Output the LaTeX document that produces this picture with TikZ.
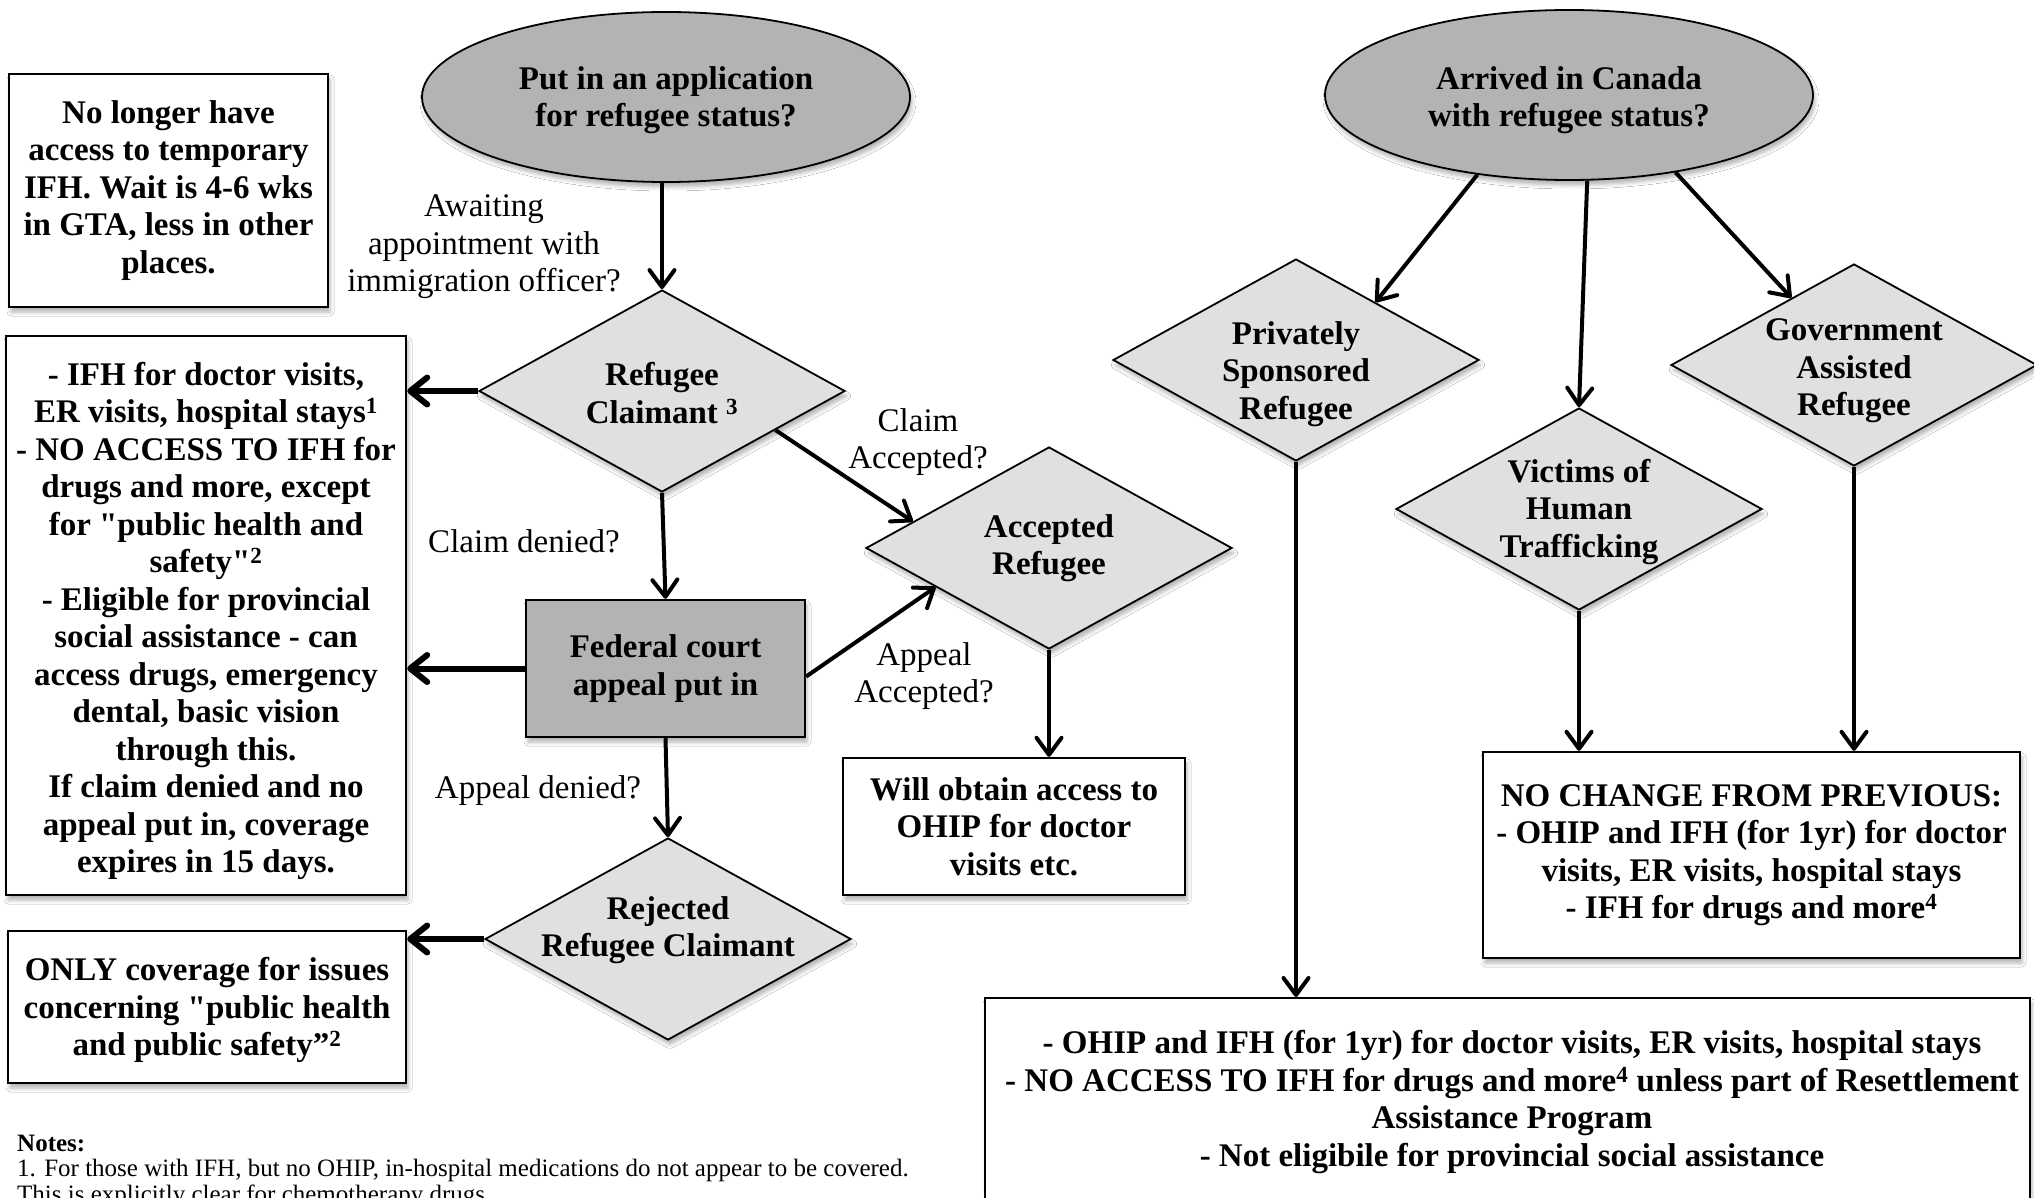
\documentclass[tikz,border=0pt]{standalone}
\usepackage{fontspec}
\setmainfont{Liberation Serif}
\usetikzlibrary{shapes.geometric,arrows.meta,shadows.blur}
\definecolor{mgray}{HTML}{B3B3B3}
\definecolor{lgray}{HTML}{E0E0E0}
\newcommand\myq{\XeTeXglyph\XeTeXcharglyph"22\relax}
\begin{document}
\begin{tikzpicture}[x=1pt,y=-1pt,
  bft/.style={font=\fontsize{33}{37.5}\selectfont\bfseries, align=center, inner sep=0},
  lbl/.style={font=\fontsize{33}{37.5}\selectfont, align=center, inner sep=0},
  shd/.style={blur shadow={shadow xshift=2pt,shadow yshift=-5pt,shadow blur radius=4pt,shadow opacity=30}},
  tbox/.style={draw, line width=2.4pt, fill=white, rectangle, inner sep=0, shd, bft},
  dia/.style={draw, line width=1.8pt, fill=lgray, diamond, inner sep=0, minimum width=366pt, minimum height=202pt, shd},
  ell/.style={draw, line width=1.8pt, fill=mgray, ellipse, inner sep=0, minimum width=488pt, minimum height=170pt, shd},
  arr/.style={line width=4pt, -{Straight Barb[length=17pt,width=25pt,round]}},
  bigarr/.style={line width=6pt, -{Straight Barb[length=17pt,width=27pt,round]}},
  note/.style={anchor=west, inner sep=0, font=\fontsize{25}{26}\selectfont},
]
\useasboundingbox (0,0) rectangle (2034,1198);
\fill[white] (0,0) rectangle (2034,1198);
\clip (0,0) rectangle (2034,1198);

% left column
\node[ell] (e1) at (666,97) {};
\node[bft] (e1t) at (666,100) {Put in an application\\for refugee status?};
\node[tbox, minimum width=319pt, minimum height=233pt] (nl) at (168.5,190.5)
  {No longer have\\access to temporary\\IFH. Wait is 4-6 wks\\in GTA, less in other\\places.};
\node[tbox, minimum width=400pt, minimum height=559pt] (ifh) at (206,615.5) {};
\node[bft] (ifht) at (206,621)
  {- IFH for doctor visits,\\ER visits, hospital stays\textsuperscript{1}\\- NO ACCESS TO IFH for\\drugs and more, except\\for \myq public health and\\safety\myq\textsuperscript{2}\\- Eligible for provincial\\social assistance - can\\access drugs, emergency\\dental, basic vision\\through this.\\If claim denied and no\\appeal put in, coverage\\expires in 15 days.};
\node[dia] (rc) at (662,391) {};
\node[bft] (rct) at (662,393) {Refugee\\Claimant \textsuperscript{3}};
\node[dia] (acc) at (1049,548) {};
\node[bft] (acct) at (1049,548) {Accepted\\Refugee};
\node[tbox, fill=mgray, minimum width=279pt, minimum height=137pt] (fed) at (665.5,668.5)
  {Federal court\\appeal put in};
\node[tbox, minimum width=342pt, minimum height=137pt] (wo) at (1014,826.5)
  {Will obtain access to\\OHIP for doctor\\visits etc.};
\node[dia] (rj) at (668,939) {};
\node[bft] (rjt) at (668,930) {Rejected\\Refugee Claimant};
\node[tbox, minimum width=398pt, minimum height=152pt] (only) at (207,1007) {};
\node[bft] (onlyt) at (207,1010)
  {ONLY coverage for issues\\concerning \myq public health\\and public safety”\textsuperscript{2}};

% labels
\node[lbl] (l1) at (484,247) {Awaiting\\appointment with\\immigration officer?};
\node[lbl] (l2) at (918,442) {Claim\\Accepted?};
\node[lbl] (l3) at (524,541) {Claim denied?};
\node[lbl] (l4) at (924,676) {Appeal\\Accepted?};
\node[lbl] (l5) at (538,791) {Appeal denied?};

% right column
\node[ell] (e2) at (1569,95) {};
\node[bft] (e2t) at (1569,100) {Arrived in Canada\\with refugee status?};
\node[dia] (ps) at (1296,360) {};
\node[bft] (pst) at (1296,374) {Privately\\Sponsored\\Refugee};
\node[dia] (vt) at (1579,509) {};
\node[bft] (vtt) at (1579,512) {Victims of\\Human\\Trafficking};
\node[dia] (gov) at (1854,365) {};
\node[bft] (govt) at (1854,371) {Government\\Assisted\\Refugee};
\node[tbox, minimum width=537pt, minimum height=206pt] (nc) at (1751.5,855)
  {NO CHANGE FROM PREVIOUS:\\- OHIP and IFH (for 1yr) for doctor\\visits, ER visits, hospital stays\\- IFH for drugs and more\textsuperscript{4}};
\node[tbox, minimum width=1045pt, minimum height=240pt, anchor=north] (bb) at (1507.5,997) {};
\node[bft] (bbt) at (1512,1102)
  {- OHIP and IFH (for 1yr) for doctor visits, ER visits, hospital stays\\- NO ACCESS TO IFH for drugs and more\textsuperscript{4} unless part of Resettlement\\Assistance Program\\- Not eligibile for provincial social assistance};

% notes
\node[note, font=\fontsize{25}{26}\selectfont\bfseries] (n0) at (17,1143) {Notes:};
\node[note] (n1) at (17,1170) {1. For those with IFH, but no OHIP, in-hospital medications do not appear to be covered.};
\node[note] (n2) at (17,1196) {This is explicitly clear for chemotherapy drugs.};

% connectors
\draw[arr] (rc.north |- e1.south) -- (rc.north);
\draw[bigarr] (rc.west) -- (rc.west -| ifh.east);
\draw[arr] (rc.-19.5) -- (acc.169);
\draw[arr] (rc.south) -- (fed.north);
\draw[bigarr] (fed.west) -- (fed.west -| ifh.east);
\draw[arr] ([yshift=-8pt]fed.east) -- (acc.199);
\draw[arr] (fed.south) -- (rj.north);
\draw[arr] (acc.south) -- (acc.south |- wo.north);
\draw[bigarr] (rj.west) -- (rj.west -| only.east);
\draw[arr] (e2.-139) -- (ps.36.5);
\draw[arr] (e2.-78) -- (vt.north);
\draw[arr] (e2.-36) -- (gov.133);
\draw[arr] (ps.south) -- (ps.south |- bb.north);
\draw[arr] (vt.south) -- (vt.south |- nc.north);
\draw[arr] (gov.south) -- (gov.south |- nc.north);
\end{tikzpicture}
\end{document}
